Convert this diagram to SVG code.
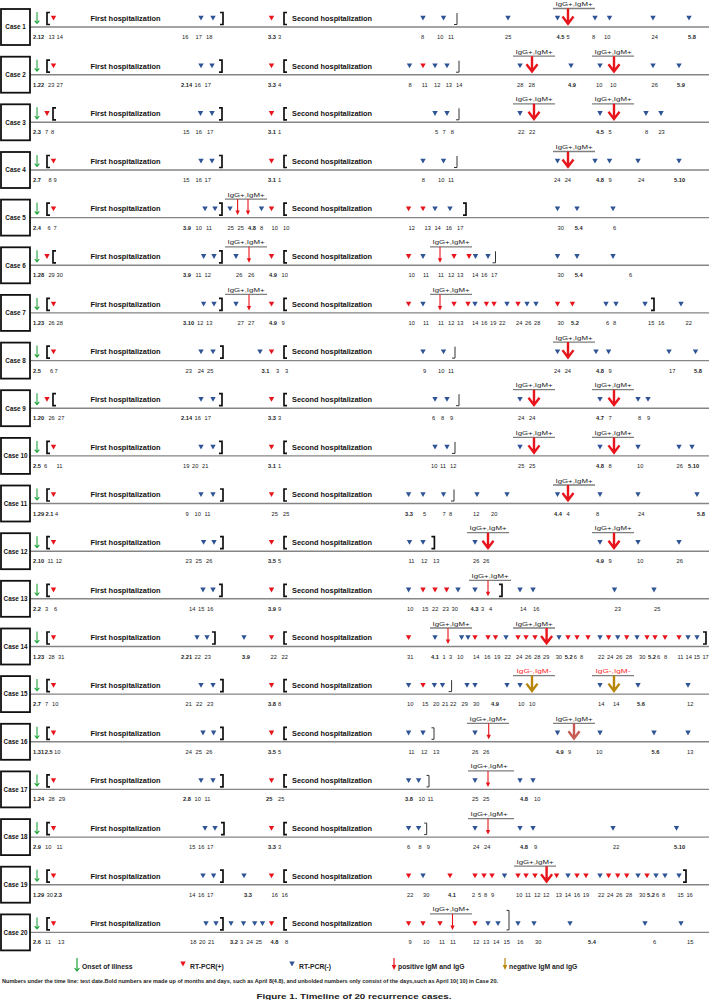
<svg xmlns="http://www.w3.org/2000/svg" xmlns:xlink="http://www.w3.org/1999/xlink" width="709" height="1000" viewBox="0 0 709 1000">
<style>
.bx{fill:#fff;stroke:#111;stroke-width:1.8}
.cl{font:bold 6.3px "Liberation Sans",Arial,sans-serif;text-anchor:middle;fill:#111}
.h{font:bold 7px "Liberation Sans",Arial,sans-serif;fill:#111}
.ig{font:6.2px "Liberation Sans",Arial,sans-serif;fill:#222;text-anchor:middle}
.neg{fill:#ff1a1a}
.ol{stroke:#7f7f7f;stroke-width:1.3;fill:none}
.n text{font:5.7px "Liberation Sans",Arial,sans-serif;fill:#222}
.n .b{font-weight:bold}
.ar{stroke:#e8141b}.ab{stroke:#b7860b}.al{stroke:#c85a54}
.lg{font:bold 6.8px "Liberation Sans",Arial,sans-serif;fill:#222}
.fn{font:bold 4.7px "Liberation Sans",Arial,sans-serif;fill:#222}
.cap{font:bold 7.5px "Liberation Sans",Arial,sans-serif;fill:#222;text-anchor:middle}
</style>
<defs>
<path id="r" d="M-2.7,-11.2H2.7L0,-6.4Z" fill="#e8141b"/>
<path id="u" d="M-2.7,-11.2H2.7L0,-6.4Z" fill="#2f5496"/>
<path id="g" d="M0,-15V-3.5M-2.3,-6.3L0,-3.5L2.3,-6.3" fill="none" stroke="#21a33c" stroke-width="1.1"/>
<path id="o" d="M3,-14.5H0V-2.5H3" fill="none" stroke="#111" stroke-width="1.7"/>
<path id="c" d="M-3,-14.5H0V-2.5H-3" fill="none" stroke="#111" stroke-width="1.7"/>
<path id="e" d="M0,-14V-2.5H-3" fill="none" stroke="#333" stroke-width="1"/>
<path id="t" d="M-2.5,-14H0V-2.5H-2.5" fill="none" stroke="#333" stroke-width="1"/>
<path id="T" d="M-2.5,-22H0V-2.5H-2.5" fill="none" stroke="#333" stroke-width="1"/>
<path id="A" d="M0,-18.5V-3.5M-5.5,-10.5L0,-3.2L5.5,-10.5" fill="none" stroke-width="2.4"/>
<g id="a"><path d="M0,-18.5V-6" stroke="#e8141b" stroke-width="1.1"/><path d="M-2.2,-7H2.2L0,-2.5Z" fill="#e8141b"/></g>
</defs>
<rect width="709" height="1000" fill="#fff"/>
<g id="timelines" stroke="#858585" stroke-width="1.4">
<line x1="30" y1="27" x2="709" y2="27"/><line x1="30" y1="74.7" x2="709" y2="74.7"/><line x1="30" y1="122.3" x2="709" y2="122.3"/><line x1="30" y1="170" x2="709" y2="170"/><line x1="30" y1="217.6" x2="709" y2="217.6"/><line x1="30" y1="265.3" x2="709" y2="265.3"/><line x1="30" y1="312.9" x2="709" y2="312.9"/><line x1="30" y1="360.6" x2="709" y2="360.6"/><line x1="30" y1="408.2" x2="709" y2="408.2"/><line x1="30" y1="455.9" x2="709" y2="455.9"/><line x1="30" y1="503.5" x2="709" y2="503.5"/><line x1="30" y1="551.2" x2="709" y2="551.2"/><line x1="30" y1="598.8" x2="709" y2="598.8"/><line x1="30" y1="646.5" x2="709" y2="646.5"/><line x1="30" y1="694.1" x2="709" y2="694.1"/><line x1="30" y1="741.8" x2="709" y2="741.8"/><line x1="30" y1="789.4" x2="709" y2="789.4"/><line x1="30" y1="837.1" x2="709" y2="837.1"/><line x1="30" y1="884.7" x2="709" y2="884.7"/><line x1="30" y1="932.4" x2="709" y2="932.4"/>
</g>

<g id="case1" transform="translate(0,27)">
<rect class="bx" x="1" y="-18" width="29" height="36"/><text class="cl" x="15.5" y="2.3">Case 1</text>
<text class="h" x="90.5" y="-6.2" textLength="70" lengthAdjust="spacingAndGlyphs">First hospitalization</text>
<text class="h" x="292" y="-6.2" textLength="80" lengthAdjust="spacingAndGlyphs">Second hospitalization</text>
<text class="ig" x="574" y="-21" textLength="37" lengthAdjust="spacingAndGlyphs">IgG+,IgM+</text><path class="ol" d="M553,-18.5H595"/>
<use href="#g" x="37"/><use href="#o" x="47"/><use href="#r" x="53.5"/><use href="#u" x="201"/><use href="#u" x="213"/><use href="#c" x="223"/><use href="#r" x="271.5"/><use href="#o" x="284"/><use href="#u" x="423"/><use href="#u" x="443.5"/><use href="#e" x="457"/><use href="#u" x="508"/><use href="#u" x="557.5"/><use href="#A" class="ar" x="568"/><use href="#u" x="595"/><use href="#u" x="609.5"/><use href="#u" x="653"/><use href="#u" x="689"/>
<g class="n" transform="translate(0,12)"><text class="b" x="33">2.12</text><text x="48.4">13</text><text x="56.6">14</text><text x="182">16</text><text x="195.5">17</text><text x="206">18</text><text class="b" x="268">3.3</text><text x="278">3</text><text x="421">8</text><text x="437">10</text><text x="448">11</text><text x="505">25</text><text class="b" x="556.5">4.5</text><text x="566.5">5</text><text x="592">8</text><text x="604">10</text><text x="651.6">24</text><text class="b" x="688">5.8</text></g>
</g>

<g id="case2" transform="translate(0,74.7)">
<rect class="bx" x="1" y="-18" width="29" height="36"/><text class="cl" x="15.5" y="2.3">Case 2</text>
<text class="h" x="90.5" y="-6.2" textLength="70" lengthAdjust="spacingAndGlyphs">First hospitalization</text>
<text class="h" x="292" y="-6.2" textLength="80" lengthAdjust="spacingAndGlyphs">Second hospitalization</text>
<text class="ig" x="534" y="-21" textLength="37" lengthAdjust="spacingAndGlyphs">IgG+,IgM+</text><path class="ol" d="M513,-18.5H555"/>
<text class="ig" x="613" y="-21" textLength="37" lengthAdjust="spacingAndGlyphs">IgG+,IgM+</text><path class="ol" d="M592,-18.5H634"/>
<use href="#g" x="37"/><use href="#o" x="47"/><use href="#r" x="53.5"/><use href="#u" x="201"/><use href="#u" x="212"/><use href="#c" x="222"/><use href="#r" x="271.5"/><use href="#o" x="284"/><use href="#u" x="409.5"/><use href="#r" x="423"/><use href="#u" x="435"/><use href="#u" x="447"/><use href="#e" x="459"/><use href="#u" x="520"/><use href="#A" class="ar" x="532"/><use href="#u" x="571"/><use href="#u" x="600"/><use href="#A" class="ar" x="614"/><use href="#u" x="653"/><use href="#u" x="679"/>
<g class="n" transform="translate(0,12)"><text class="b" x="33">1.22</text><text x="48">23</text><text x="56.5">27</text><text class="b" x="181">2.14</text><text x="194.6">16</text><text x="204.5">17</text><text class="b" x="268">3.3</text><text x="278">4</text><text x="408.6">8</text><text x="421.7">11</text><text x="434">12</text><text x="445.7">13</text><text x="456">14</text><text x="517">28</text><text x="528.5">28</text><text class="b" x="568">4.9</text><text x="596">10</text><text x="610">10</text><text x="651.6">26</text><text class="b" x="677">5.9</text></g>
</g>

<g id="case3" transform="translate(0,122.3)">
<rect class="bx" x="1" y="-18" width="29" height="36"/><text class="cl" x="15.5" y="2.3">Case 3</text>
<text class="h" x="90.5" y="-6.2" textLength="70" lengthAdjust="spacingAndGlyphs">First hospitalization</text>
<text class="h" x="292" y="-6.2" textLength="80" lengthAdjust="spacingAndGlyphs">Second hospitalization</text>
<text class="ig" x="534" y="-21" textLength="37" lengthAdjust="spacingAndGlyphs">IgG+,IgM+</text><path class="ol" d="M513,-18.5H555"/>
<text class="ig" x="613" y="-21" textLength="37" lengthAdjust="spacingAndGlyphs">IgG+,IgM+</text><path class="ol" d="M592,-18.5H634"/>
<use href="#g" x="37"/><use href="#r" x="47"/><use href="#o" x="53"/><use href="#u" x="200.5"/><use href="#u" x="212"/><use href="#c" x="222"/><use href="#r" x="271.5"/><use href="#o" x="284"/><use href="#u" x="435"/><use href="#u" x="447"/><use href="#e" x="459"/><use href="#u" x="520"/><use href="#A" class="ar" x="534"/><use href="#u" x="600"/><use href="#A" class="ar" x="614"/><use href="#u" x="646"/><use href="#u" x="661"/>
<g class="n" transform="translate(0,12)"><text class="b" x="33">2.3</text><text x="45">7</text><text x="51">8</text><text x="183">15</text><text x="195.5">16</text><text x="207">17</text><text class="b" x="268">3.1</text><text x="278">1</text><text x="435">5</text><text x="442.5">7</text><text x="450.7">8</text><text x="518">22</text><text x="529">22</text><text class="b" x="596">4.5</text><text x="608.6">5</text><text x="645">8</text><text x="658.4">23</text></g>
</g>

<g id="case4" transform="translate(0,170)">
<rect class="bx" x="1" y="-18" width="29" height="36"/><text class="cl" x="15.5" y="2.3">Case 4</text>
<text class="h" x="90.5" y="-6.2" textLength="70" lengthAdjust="spacingAndGlyphs">First hospitalization</text>
<text class="h" x="292" y="-6.2" textLength="80" lengthAdjust="spacingAndGlyphs">Second hospitalization</text>
<text class="ig" x="574" y="-21" textLength="37" lengthAdjust="spacingAndGlyphs">IgG+,IgM+</text><path class="ol" d="M553,-18.5H595"/>
<use href="#g" x="37"/><use href="#o" x="47"/><use href="#r" x="53.5"/><use href="#u" x="201"/><use href="#u" x="212"/><use href="#c" x="222"/><use href="#r" x="271.5"/><use href="#o" x="284"/><use href="#u" x="423"/><use href="#u" x="443.5"/><use href="#e" x="457"/><use href="#u" x="557.5"/><use href="#A" class="ar" x="568"/><use href="#u" x="595"/><use href="#u" x="609.5"/><use href="#u" x="638"/><use href="#u" x="679"/>
<g class="n" transform="translate(0,12)"><text class="b" x="33">2.7</text><text x="48.4">8</text><text x="53.4">9</text><text x="183">15</text><text x="195.5">16</text><text x="204.5">17</text><text class="b" x="268">3.1</text><text x="278">1</text><text x="421.7">8</text><text x="438">10</text><text x="448">11</text><text x="554">24</text><text x="564.7">24</text><text class="b" x="596">4.8</text><text x="608.6">9</text><text x="638">24</text><text class="b" x="674">5.10</text></g>
</g>

<g id="case5" transform="translate(0,217.6)">
<rect class="bx" x="1" y="-18" width="29" height="36"/><text class="cl" x="15.5" y="2.3">Case 5</text>
<text class="h" x="90.5" y="-6.2" textLength="70" lengthAdjust="spacingAndGlyphs">First hospitalization</text>
<text class="h" x="292" y="-6.2" textLength="80" lengthAdjust="spacingAndGlyphs">Second hospitalization</text>
<text class="ig" x="246" y="-21" textLength="37" lengthAdjust="spacingAndGlyphs">IgG+,IgM+</text><path class="ol" d="M225,-18.5H267"/>
<use href="#g" x="37"/><use href="#o" x="47"/><use href="#r" x="53.5"/><use href="#u" x="205"/><use href="#u" x="215"/><use href="#c" x="222"/><use href="#u" x="230"/><use href="#a" x="237.6"/><use href="#a" x="248"/><use href="#u" x="261.5"/><use href="#r" x="271.5"/><use href="#o" x="284"/><use href="#r" x="408.6"/><use href="#r" x="423"/><use href="#u" x="435"/><use href="#u" x="450"/><use href="#c" x="466"/><use href="#u" x="557.5"/><use href="#u" x="577"/><use href="#u" x="613"/>
<g class="n" transform="translate(0,12)"><text class="b" x="33">2.4</text><text x="47.5">6</text><text x="53.4">7</text><text class="b" x="183">3.9</text><text x="195.5">10</text><text x="206">11</text><text x="227.6">25</text><text x="237.6">25</text><text class="b" x="248">4.8</text><text x="260">8</text><text x="271.5">10</text><text x="283">10</text><text x="408.6">12</text><text x="424.5">13</text><text x="434.4">14</text><text x="445.7">16</text><text x="457">17</text><text x="557.5">30</text><text class="b" x="574.7">5.4</text><text x="613">6</text></g>
</g>

<g id="case6" transform="translate(0,265.3)">
<rect class="bx" x="1" y="-18" width="29" height="36"/><text class="cl" x="15.5" y="2.3">Case 6</text>
<text class="h" x="90.5" y="-6.2" textLength="70" lengthAdjust="spacingAndGlyphs">First hospitalization</text>
<text class="h" x="292" y="-6.2" textLength="80" lengthAdjust="spacingAndGlyphs">Second hospitalization</text>
<text class="ig" x="246" y="-21" textLength="37" lengthAdjust="spacingAndGlyphs">IgG+,IgM+</text><path class="ol" d="M225,-18.5H267"/>
<text class="ig" x="451" y="-21" textLength="37" lengthAdjust="spacingAndGlyphs">IgG+,IgM+</text><path class="ol" d="M430,-18.5H472"/>
<use href="#g" x="37"/><use href="#r" x="47"/><use href="#o" x="53"/><use href="#u" x="203.6"/><use href="#u" x="214"/><use href="#c" x="222"/><use href="#u" x="236"/><use href="#a" x="249"/><use href="#r" x="271.5"/><use href="#o" x="284"/><use href="#r" x="408.6"/><use href="#u" x="423"/><use href="#a" x="440"/><use href="#r" x="454"/><use href="#r" x="469"/><use href="#u" x="475.5"/><use href="#u" x="488"/><use href="#e" x="495.5"/><use href="#u" x="557.5"/><use href="#u" x="577"/><use href="#u" x="613"/>
<g class="n" transform="translate(0,12)"><text class="b" x="33">1.28</text><text x="48.4">29</text><text x="56.6">30</text><text class="b" x="183">3.9</text><text x="195.5">11</text><text x="204.5">12</text><text x="236">26</text><text x="248">26</text><text class="b" x="269">4.9</text><text x="281.5">10</text><text x="408.6">10</text><text x="423">11</text><text x="438">11</text><text x="448">12</text><text x="457">13</text><text x="472">14</text><text x="481">16</text><text x="491">17</text><text x="557.5">30</text><text class="b" x="574.7">5.4</text><text x="629">6</text></g>
</g>

<g id="case7" transform="translate(0,312.9)">
<rect class="bx" x="1" y="-18" width="29" height="36"/><text class="cl" x="15.5" y="2.3">Case 7</text>
<text class="h" x="90.5" y="-6.2" textLength="70" lengthAdjust="spacingAndGlyphs">First hospitalization</text>
<text class="h" x="292" y="-6.2" textLength="80" lengthAdjust="spacingAndGlyphs">Second hospitalization</text>
<text class="ig" x="246" y="-21" textLength="37" lengthAdjust="spacingAndGlyphs">IgG+,IgM+</text><path class="ol" d="M225,-18.5H267"/>
<text class="ig" x="451" y="-21" textLength="37" lengthAdjust="spacingAndGlyphs">IgG+,IgM+</text><path class="ol" d="M430,-18.5H472"/>
<use href="#g" x="37"/><use href="#o" x="47"/><use href="#r" x="53.5"/><use href="#u" x="203.6"/><use href="#u" x="214"/><use href="#c" x="222"/><use href="#u" x="236"/><use href="#a" x="249"/><use href="#r" x="271.5"/><use href="#o" x="284"/><use href="#r" x="408.6"/><use href="#u" x="423"/><use href="#a" x="440"/><use href="#r" x="454"/><use href="#r" x="468"/><use href="#u" x="475"/><use href="#r" x="486.4"/><use href="#r" x="494"/><use href="#u" x="507"/><use href="#r" x="518"/><use href="#u" x="527"/><use href="#u" x="536"/><use href="#r" x="557.5"/><use href="#r" x="572.4"/><use href="#u" x="606"/><use href="#u" x="616"/><use href="#u" x="645"/><use href="#c" x="654"/><use href="#u" x="681"/>
<g class="n" transform="translate(0,12)"><text class="b" x="33">1.23</text><text x="48.4">26</text><text x="56.6">28</text><text class="b" x="183">3.10</text><text x="197">12</text><text x="206">13</text><text x="237.6">27</text><text x="248">27</text><text class="b" x="269">4.9</text><text x="281.5">9</text><text x="408.6">10</text><text x="423">11</text><text x="438">11</text><text x="448">12</text><text x="457">13</text><text x="472">14</text><text x="481">16</text><text x="490">19</text><text x="499">22</text><text x="516">24</text><text x="525">26</text><text x="534">28</text><text x="557.5">30</text><text class="b" x="571">5.2</text><text x="606">6</text><text x="613">8</text><text x="648">15</text><text x="658">16</text><text x="685.5">22</text></g>
</g>

<g id="case8" transform="translate(0,360.6)">
<rect class="bx" x="1" y="-18" width="29" height="36"/><text class="cl" x="15.5" y="2.3">Case 8</text>
<text class="h" x="90.5" y="-6.2" textLength="70" lengthAdjust="spacingAndGlyphs">First hospitalization</text>
<text class="h" x="292" y="-6.2" textLength="80" lengthAdjust="spacingAndGlyphs">Second hospitalization</text>
<text class="ig" x="574" y="-21" textLength="37" lengthAdjust="spacingAndGlyphs">IgG+,IgM+</text><path class="ol" d="M553,-18.5H595"/>
<use href="#g" x="37"/><use href="#o" x="47"/><use href="#r" x="53.5"/><use href="#u" x="201"/><use href="#u" x="213"/><use href="#c" x="223"/><use href="#u" x="260"/><use href="#r" x="271.5"/><use href="#o" x="284"/><use href="#u" x="423"/><use href="#u" x="443.5"/><use href="#e" x="455"/><use href="#u" x="557.5"/><use href="#A" class="ar" x="568"/><use href="#u" x="596"/><use href="#u" x="608.6"/><use href="#u" x="669"/><use href="#u" x="695.5"/>
<g class="n" transform="translate(0,12)"><text class="b" x="33">2.5</text><text x="50">6</text><text x="54.5">7</text><text x="185.5">23</text><text x="197.7">24</text><text x="207">25</text><text class="b" x="261.5">3.1</text><text x="276">3</text><text x="285">3</text><text x="423">9</text><text x="438">10</text><text x="448">11</text><text x="554">24</text><text x="564.7">24</text><text class="b" x="596">4.8</text><text x="608.6">9</text><text x="669">17</text><text class="b" x="694">5.8</text></g>
</g>

<g id="case9" transform="translate(0,408.2)">
<rect class="bx" x="1" y="-18" width="29" height="36"/><text class="cl" x="15.5" y="2.3">Case 9</text>
<text class="h" x="90.5" y="-6.2" textLength="70" lengthAdjust="spacingAndGlyphs">First hospitalization</text>
<text class="h" x="292" y="-6.2" textLength="80" lengthAdjust="spacingAndGlyphs">Second hospitalization</text>
<text class="ig" x="534" y="-21" textLength="37" lengthAdjust="spacingAndGlyphs">IgG+,IgM+</text><path class="ol" d="M513,-18.5H555"/>
<text class="ig" x="613" y="-21" textLength="37" lengthAdjust="spacingAndGlyphs">IgG+,IgM+</text><path class="ol" d="M592,-18.5H634"/>
<use href="#g" x="37"/><use href="#r" x="47"/><use href="#o" x="53"/><use href="#u" x="201"/><use href="#u" x="213"/><use href="#c" x="222"/><use href="#r" x="271.5"/><use href="#o" x="284"/><use href="#u" x="435"/><use href="#u" x="447"/><use href="#e" x="459"/><use href="#u" x="520"/><use href="#A" class="ar" x="534"/><use href="#u" x="600"/><use href="#A" class="ar" x="614"/><use href="#u" x="638"/><use href="#u" x="648"/>
<g class="n" transform="translate(0,12)"><text class="b" x="33">1.20</text><text x="48.4">26</text><text x="58">27</text><text class="b" x="181">2.14</text><text x="194.6">16</text><text x="204.5">17</text><text class="b" x="268">3.3</text><text x="278">3</text><text x="432">6</text><text x="441">8</text><text x="450">9</text><text x="518">24</text><text x="529">24</text><text class="b" x="596">4.7</text><text x="608.6">7</text><text x="638">8</text><text x="647">9</text></g>
</g>

<g id="case10" transform="translate(0,455.9)">
<rect class="bx" x="1" y="-18" width="29" height="36"/><text class="cl" x="15.5" y="2.3">Case 10</text>
<text class="h" x="90.5" y="-6.2" textLength="70" lengthAdjust="spacingAndGlyphs">First hospitalization</text>
<text class="h" x="292" y="-6.2" textLength="80" lengthAdjust="spacingAndGlyphs">Second hospitalization</text>
<text class="ig" x="534" y="-21" textLength="37" lengthAdjust="spacingAndGlyphs">IgG+,IgM+</text><path class="ol" d="M513,-18.5H555"/>
<text class="ig" x="613" y="-21" textLength="37" lengthAdjust="spacingAndGlyphs">IgG+,IgM+</text><path class="ol" d="M592,-18.5H634"/>
<use href="#g" x="37"/><use href="#o" x="47"/><use href="#r" x="53.5"/><use href="#u" x="201"/><use href="#u" x="213"/><use href="#c" x="222"/><use href="#r" x="271.5"/><use href="#o" x="284"/><use href="#u" x="435"/><use href="#u" x="447"/><use href="#e" x="455"/><use href="#u" x="520"/><use href="#A" class="ar" x="534"/><use href="#u" x="600"/><use href="#A" class="ar" x="614"/><use href="#u" x="638"/><use href="#u" x="679"/><use href="#u" x="692"/>
<g class="n" transform="translate(0,12)"><text class="b" x="33">2.5</text><text x="44">6</text><text x="56.6">11</text><text x="183">19</text><text x="192">20</text><text x="202">21</text><text class="b" x="268">3.1</text><text x="278">1</text><text x="431">10</text><text x="440">11</text><text x="450">12</text><text x="518">25</text><text x="529">25</text><text class="b" x="596">4.8</text><text x="608.6">8</text><text x="637">10</text><text x="676.5">26</text><text class="b" x="688">5.10</text></g>
</g>

<g id="case11" transform="translate(0,503.5)">
<rect class="bx" x="1" y="-18" width="29" height="36"/><text class="cl" x="15.5" y="2.3">Case 11</text>
<text class="h" x="90.5" y="-6.2" textLength="70" lengthAdjust="spacingAndGlyphs">First hospitalization</text>
<text class="h" x="292" y="-6.2" textLength="80" lengthAdjust="spacingAndGlyphs">Second hospitalization</text>
<text class="ig" x="574" y="-21" textLength="37" lengthAdjust="spacingAndGlyphs">IgG+,IgM+</text><path class="ol" d="M553,-18.5H595"/>
<use href="#g" x="37"/><use href="#o" x="47"/><use href="#r" x="53.5"/><use href="#u" x="201"/><use href="#u" x="213"/><use href="#c" x="223"/><use href="#r" x="271.5"/><use href="#o" x="284"/><use href="#u" x="408.6"/><use href="#u" x="423"/><use href="#u" x="443.5"/><use href="#e" x="454"/><use href="#u" x="477"/><use href="#u" x="507"/><use href="#u" x="557.5"/><use href="#A" class="ar" x="568"/><use href="#u" x="600"/><use href="#u" x="638"/><use href="#u" x="697"/>
<g class="n" transform="translate(0,12)"><text class="b" x="33">1.29</text><text class="b" x="45.5">2.1</text><text x="55">4</text><text x="185.5">9</text><text x="194.6">10</text><text x="204.5">11</text><text x="271.5">25</text><text x="283">25</text><text class="b" x="405">3.3</text><text x="423">5</text><text x="442.5">7</text><text x="449">8</text><text x="473">12</text><text x="491">20</text><text class="b" x="554">4.4</text><text x="566.5">4</text><text x="596">8</text><text x="638">24</text><text class="b" x="697">5.8</text></g>
</g>

<g id="case12" transform="translate(0,551.2)">
<rect class="bx" x="1" y="-18" width="29" height="36"/><text class="cl" x="15.5" y="2.3">Case 12</text>
<text class="h" x="90.5" y="-6.2" textLength="70" lengthAdjust="spacingAndGlyphs">First hospitalization</text>
<text class="h" x="292" y="-6.2" textLength="80" lengthAdjust="spacingAndGlyphs">Second hospitalization</text>
<text class="ig" x="488" y="-21" textLength="37" lengthAdjust="spacingAndGlyphs">IgG+,IgM+</text><path class="ol" d="M467,-18.5H509"/>
<text class="ig" x="613" y="-21" textLength="37" lengthAdjust="spacingAndGlyphs">IgG+,IgM+</text><path class="ol" d="M592,-18.5H634"/>
<use href="#g" x="37"/><use href="#o" x="47"/><use href="#r" x="53.5"/><use href="#u" x="203.6"/><use href="#u" x="214"/><use href="#c" x="223"/><use href="#r" x="271.5"/><use href="#o" x="284"/><use href="#u" x="409.5"/><use href="#u" x="423"/><use href="#c" x="434.4"/><use href="#u" x="475"/><use href="#A" class="ar" x="488"/><use href="#u" x="600"/><use href="#A" class="ar" x="614"/><use href="#u" x="638"/><use href="#u" x="679"/>
<g class="n" transform="translate(0,12)"><text class="b" x="33">2.10</text><text x="47.5">11</text><text x="55.7">12</text><text x="185.5">23</text><text x="195.5">25</text><text x="206">26</text><text class="b" x="268">3.5</text><text x="278">5</text><text x="408.6">11</text><text x="421">12</text><text x="433">13</text><text x="473">26</text><text x="483">26</text><text class="b" x="596">4.9</text><text x="608.6">9</text><text x="637">10</text><text x="676.5">26</text></g>
</g>

<g id="case13" transform="translate(0,598.8)">
<rect class="bx" x="1" y="-18" width="29" height="36"/><text class="cl" x="15.5" y="2.3">Case 13</text>
<text class="h" x="90.5" y="-6.2" textLength="70" lengthAdjust="spacingAndGlyphs">First hospitalization</text>
<text class="h" x="292" y="-6.2" textLength="80" lengthAdjust="spacingAndGlyphs">Second hospitalization</text>
<text class="ig" x="490" y="-21" textLength="37" lengthAdjust="spacingAndGlyphs">IgG+,IgM+</text><path class="ol" d="M469,-18.5H511"/>
<use href="#g" x="37"/><use href="#o" x="47"/><use href="#r" x="53.5"/><use href="#u" x="203"/><use href="#u" x="213"/><use href="#c" x="222"/><use href="#r" x="271.5"/><use href="#o" x="284"/><use href="#u" x="408.6"/><use href="#r" x="423"/><use href="#r" x="435"/><use href="#r" x="446.6"/><use href="#u" x="458"/><use href="#u" x="475"/><use href="#a" x="488"/><use href="#c" x="502"/><use href="#u" x="520"/><use href="#u" x="533"/><use href="#u" x="614.5"/><use href="#u" x="654"/>
<g class="n" transform="translate(0,12)"><text class="b" x="33">2.2</text><text x="45">3</text><text x="54">6</text><text x="189">14</text><text x="198">15</text><text x="207">16</text><text class="b" x="268">3.9</text><text x="278">9</text><text x="407">10</text><text x="422">15</text><text x="432">22</text><text x="442.5">23</text><text x="451.6">30</text><text class="b" x="470.6">4.3</text><text x="481">3</text><text x="489">4</text><text x="520">14</text><text x="533">16</text><text x="614.5">23</text><text x="654">25</text></g>
</g>

<g id="case14" transform="translate(0,646.5)">
<rect class="bx" x="1" y="-18" width="29" height="36"/><text class="cl" x="15.5" y="2.3">Case 14</text>
<text class="h" x="90.5" y="-6.2" textLength="70" lengthAdjust="spacingAndGlyphs">First hospitalization</text>
<text class="h" x="292" y="-6.2" textLength="80" lengthAdjust="spacingAndGlyphs">Second hospitalization</text>
<text class="ig" x="451" y="-21" textLength="37" lengthAdjust="spacingAndGlyphs">IgG+,IgM+</text><path class="ol" d="M430,-18.5H472"/>
<text class="ig" x="534" y="-21" textLength="37" lengthAdjust="spacingAndGlyphs">IgG+,IgM+</text><path class="ol" d="M513,-18.5H555"/>
<use href="#g" x="37"/><use href="#o" x="47"/><use href="#r" x="53.5"/><use href="#u" x="197"/><use href="#u" x="207"/><use href="#c" x="215"/><use href="#u" x="244"/><use href="#r" x="271.5"/><use href="#o" x="284"/><use href="#r" x="408.6"/><use href="#u" x="435"/><use href="#a" x="448"/><use href="#u" x="461.6"/><use href="#u" x="468"/><use href="#r" x="475"/><use href="#r" x="488"/><use href="#r" x="495.5"/><use href="#u" x="506"/><use href="#r" x="518"/><use href="#r" x="526"/><use href="#r" x="535"/><use href="#A" class="ar" x="546.6"/><use href="#u" x="559"/><use href="#r" x="568"/><use href="#r" x="577"/><use href="#r" x="588"/><use href="#u" x="600"/><use href="#r" x="608.6"/><use href="#u" x="617.7"/><use href="#r" x="626.7"/><use href="#u" x="637"/><use href="#r" x="647"/><use href="#r" x="655"/><use href="#r" x="665"/><use href="#r" x="679"/><use href="#u" x="688"/><use href="#u" x="697"/><use href="#c" x="706"/>
<g class="n" transform="translate(0,12)"><text class="b" x="33">1.23</text><text x="48.4">28</text><text x="58">31</text><text class="b" x="181">2.21</text><text x="194.6">22</text><text x="204.5">23</text><text class="b" x="242">3.9</text><text x="270.6">22</text><text x="281.5">22</text><text x="407">31</text><text class="b" x="431">4.1</text><text x="442.5">1</text><text x="449">3</text><text x="457">10</text><text x="473">14</text><text x="484">16</text><text x="494">19</text><text x="504.5">22</text><text x="516">24</text><text x="525">26</text><text x="534">28</text><text x="543">29</text><text x="555.7">30</text><text class="b" x="564.7">5.2</text><text x="573.8">6</text><text x="580">8</text><text x="598">22</text><text x="607">24</text><text x="616">26</text><text x="625.8">28</text><text x="639">30</text><text class="b" x="648">5.2</text><text x="657">6</text><text x="664">8</text><text x="677.4">11</text><text x="685.5">14</text><text x="693.7">15</text><text x="702.4">17</text></g>
</g>

<g id="case15" transform="translate(0,694.1)">
<rect class="bx" x="1" y="-18" width="29" height="36"/><text class="cl" x="15.5" y="2.3">Case 15</text>
<text class="h" x="90.5" y="-6.2" textLength="70" lengthAdjust="spacingAndGlyphs">First hospitalization</text>
<text class="h" x="292" y="-6.2" textLength="80" lengthAdjust="spacingAndGlyphs">Second hospitalization</text>
<text class="ig neg" x="534" y="-21" textLength="35" lengthAdjust="spacingAndGlyphs">IgG-,IgM-</text><path class="ol" d="M513,-18.5H555"/>
<text class="ig neg" x="613" y="-21" textLength="35" lengthAdjust="spacingAndGlyphs">IgG-,IgM-</text><path class="ol" d="M592,-18.5H634"/>
<use href="#g" x="37"/><use href="#o" x="47"/><use href="#r" x="53.5"/><use href="#u" x="201"/><use href="#u" x="213"/><use href="#c" x="223"/><use href="#r" x="271.5"/><use href="#o" x="284"/><use href="#u" x="408.6"/><use href="#r" x="423"/><use href="#u" x="434.4"/><use href="#u" x="442.5"/><use href="#e" x="451.6"/><use href="#u" x="467"/><use href="#u" x="475"/><use href="#u" x="507"/><use href="#u" x="520"/><use href="#A" class="ab" x="532"/><use href="#u" x="600"/><use href="#A" class="ab" x="614"/><use href="#u" x="638"/><use href="#u" x="688"/>
<g class="n" transform="translate(0,12)"><text class="b" x="33">2.7</text><text x="45">7</text><text x="52">10</text><text x="185.5">21</text><text x="196">22</text><text x="207">23</text><text class="b" x="268">3.8</text><text x="278">8</text><text x="407">10</text><text x="422">15</text><text x="433">20</text><text x="442">21</text><text x="450">22</text><text x="461.6">29</text><text x="473">30</text><text class="b" x="491">4.9</text><text x="518">10</text><text x="529">10</text><text x="598">14</text><text x="613">14</text><text class="b" x="637">5.6</text><text x="687">12</text></g>
</g>

<g id="case16" transform="translate(0,741.8)">
<rect class="bx" x="1" y="-18" width="29" height="36"/><text class="cl" x="15.5" y="2.3">Case 16</text>
<text class="h" x="90.5" y="-6.2" textLength="70" lengthAdjust="spacingAndGlyphs">First hospitalization</text>
<text class="h" x="292" y="-6.2" textLength="80" lengthAdjust="spacingAndGlyphs">Second hospitalization</text>
<text class="ig" x="488" y="-21" textLength="37" lengthAdjust="spacingAndGlyphs">IgG+,IgM+</text><path class="ol" d="M467,-18.5H509"/>
<text class="ig" x="574" y="-21" textLength="37" lengthAdjust="spacingAndGlyphs">IgG+,IgM+</text><path class="ol" d="M553,-18.5H595"/>
<use href="#g" x="37"/><use href="#o" x="47"/><use href="#r" x="53.5"/><use href="#u" x="203"/><use href="#u" x="213.6"/><use href="#c" x="223"/><use href="#r" x="271.5"/><use href="#o" x="284"/><use href="#u" x="408.6"/><use href="#u" x="423"/><use href="#t" x="434"/><use href="#u" x="475"/><use href="#a" x="488.7"/><use href="#u" x="557.5"/><use href="#A" class="al" x="574"/><use href="#u" x="600"/><use href="#u" x="654"/><use href="#u" x="688"/>
<g class="n" transform="translate(0,12)"><text class="b" x="33">1.31</text><text class="b" x="44.8">2.5</text><text x="54">10</text><text x="185.5">24</text><text x="195.5">25</text><text x="206">26</text><text class="b" x="268">3.5</text><text x="278">5</text><text x="408.6">11</text><text x="421">12</text><text x="433">13</text><text x="472">26</text><text x="483">26</text><text class="b" x="555.7">4.9</text><text x="568">9</text><text x="596">10</text><text class="b" x="651.6">5.6</text><text x="687">13</text></g>
</g>

<g id="case17" transform="translate(0,789.4)">
<rect class="bx" x="1" y="-18" width="29" height="36"/><text class="cl" x="15.5" y="2.3">Case 17</text>
<text class="h" x="90.5" y="-6.2" textLength="70" lengthAdjust="spacingAndGlyphs">First hospitalization</text>
<text class="h" x="292" y="-6.2" textLength="80" lengthAdjust="spacingAndGlyphs">Second hospitalization</text>
<text class="ig" x="489" y="-21" textLength="37" lengthAdjust="spacingAndGlyphs">IgG+,IgM+</text><path class="ol" d="M468,-18.5H514"/>
<use href="#g" x="37"/><use href="#o" x="47"/><use href="#r" x="53.5"/><use href="#u" x="201"/><use href="#u" x="213"/><use href="#c" x="223"/><use href="#r" x="271.5"/><use href="#o" x="284"/><use href="#u" x="408.6"/><use href="#u" x="418.6"/><use href="#t" x="429"/><use href="#u" x="475"/><use href="#a" x="488"/><use href="#u" x="520"/><use href="#u" x="533"/>
<g class="n" transform="translate(0,12)"><text class="b" x="33">1.24</text><text x="48.4">28</text><text x="58.8">29</text><text class="b" x="183">2.8</text><text x="194.6">10</text><text x="204.5">11</text><text class="b" x="266">25</text><text x="278">25</text><text class="b" x="405">3.8</text><text x="418.6">10</text><text x="427.6">11</text><text x="472">25</text><text x="483">25</text><text class="b" x="520">4.8</text><text x="534">10</text></g>
</g>

<g id="case18" transform="translate(0,837.1)">
<rect class="bx" x="1" y="-18" width="29" height="36"/><text class="cl" x="15.5" y="2.3">Case 18</text>
<text class="h" x="90.5" y="-6.2" textLength="70" lengthAdjust="spacingAndGlyphs">First hospitalization</text>
<text class="h" x="292" y="-6.2" textLength="80" lengthAdjust="spacingAndGlyphs">Second hospitalization</text>
<text class="ig" x="489" y="-21" textLength="37" lengthAdjust="spacingAndGlyphs">IgG+,IgM+</text><path class="ol" d="M468,-18.5H514"/>
<use href="#g" x="37"/><use href="#o" x="47"/><use href="#r" x="53.5"/><use href="#u" x="205"/><use href="#u" x="215"/><use href="#c" x="224"/><use href="#r" x="271.5"/><use href="#o" x="284"/><use href="#u" x="408.6"/><use href="#u" x="418.6"/><use href="#t" x="426.7"/><use href="#u" x="475"/><use href="#a" x="488"/><use href="#u" x="520"/><use href="#u" x="533"/><use href="#u" x="613"/><use href="#u" x="676.5"/>
<g class="n" transform="translate(0,12)"><text class="b" x="33">2.9</text><text x="45">10</text><text x="56.6">11</text><text x="189">15</text><text x="198">16</text><text x="207">17</text><text class="b" x="268">3.3</text><text x="278">3</text><text x="407">6</text><text x="418.6">8</text><text x="426.7">9</text><text x="473">24</text><text x="484">24</text><text class="b" x="520">4.8</text><text x="534">9</text><text x="613">22</text><text class="b" x="674">5.10</text></g>
</g>

<g id="case19" transform="translate(0,884.7)">
<rect class="bx" x="1" y="-18" width="29" height="36"/><text class="cl" x="15.5" y="2.3">Case 19</text>
<text class="h" x="90.5" y="-6.2" textLength="70" lengthAdjust="spacingAndGlyphs">First hospitalization</text>
<text class="h" x="292" y="-6.2" textLength="80" lengthAdjust="spacingAndGlyphs">Second hospitalization</text>
<text class="ig" x="535" y="-21" textLength="37" lengthAdjust="spacingAndGlyphs">IgG+,IgM+</text><path class="ol" d="M514,-18.5H556"/>
<use href="#g" x="37"/><use href="#o" x="47"/><use href="#r" x="53.5"/><use href="#u" x="203"/><use href="#u" x="213.6"/><use href="#c" x="223"/><use href="#u" x="244"/><use href="#r" x="271.5"/><use href="#o" x="284"/><use href="#r" x="408.6"/><use href="#u" x="423"/><use href="#r" x="450"/><use href="#r" x="475"/><use href="#r" x="484"/><use href="#r" x="492"/><use href="#u" x="504.5"/><use href="#r" x="518"/><use href="#r" x="526"/><use href="#r" x="535"/><use href="#A" class="ar" x="546.6"/><use href="#r" x="556.6"/><use href="#u" x="568"/><use href="#r" x="577"/><use href="#r" x="586"/><use href="#u" x="600"/><use href="#r" x="608.6"/><use href="#r" x="617.7"/><use href="#r" x="626.7"/><use href="#u" x="638"/><use href="#r" x="647"/><use href="#u" x="656"/><use href="#u" x="665"/><use href="#u" x="679"/><use href="#c" x="686"/>
<g class="n" transform="translate(0,12)"><text class="b" x="33">1.29</text><text x="46.6">30</text><text class="b" x="54">2.3</text><text x="189">14</text><text x="198">16</text><text x="207">17</text><text class="b" x="244">3.3</text><text x="271.5">16</text><text x="281.5">16</text><text x="407">22</text><text x="423">30</text><text class="b" x="448">4.1</text><text x="472">2</text><text x="478">5</text><text x="484">8</text><text x="491">9</text><text x="516">10</text><text x="525">11</text><text x="534">12</text><text x="543">12</text><text x="555.7">13</text><text x="564.7">14</text><text x="573.8">16</text><text x="582.8">19</text><text x="598">22</text><text x="607">24</text><text x="616">26</text><text x="625.8">28</text><text x="639">30</text><text class="b" x="647">5.2</text><text x="656">6</text><text x="662">8</text><text x="677.4">15</text><text x="686.4">16</text></g>
</g>

<g id="case20" transform="translate(0,932.4)">
<rect class="bx" x="1" y="-18" width="29" height="36"/><text class="cl" x="15.5" y="2.3">Case 20</text>
<text class="h" x="90.5" y="-6.2" textLength="70" lengthAdjust="spacingAndGlyphs">First hospitalization</text>
<text class="h" x="292" y="-6.2" textLength="80" lengthAdjust="spacingAndGlyphs">Second hospitalization</text>
<text class="ig" x="451" y="-21" textLength="37" lengthAdjust="spacingAndGlyphs">IgG+,IgM+</text><path class="ol" d="M430,-18.5H472"/>
<use href="#g" x="37"/><use href="#o" x="47"/><use href="#r" x="53.5"/><use href="#u" x="206"/><use href="#u" x="216"/><use href="#c" x="223"/><use href="#u" x="231"/><use href="#u" x="243.5"/><use href="#u" x="254.7"/><use href="#u" x="262.5"/><use href="#r" x="271.5"/><use href="#o" x="284"/><use href="#r" x="408.6"/><use href="#r" x="423"/><use href="#r" x="440"/><use href="#a" x="452.5"/><use href="#r" x="475"/><use href="#u" x="488"/><use href="#u" x="498"/><use href="#T" x="509"/><use href="#u" x="518"/><use href="#u" x="534"/><use href="#u" x="570"/><use href="#u" x="645"/><use href="#u" x="681"/>
<g class="n" transform="translate(0,12)"><text class="b" x="33">2.6</text><text x="45">11</text><text x="58">13</text><text x="190">18</text><text x="199">20</text><text x="208">21</text><text class="b" x="230">3.2</text><text x="240">3</text><text x="246.6">24</text><text x="255.7">25</text><text class="b" x="270.6">4.8</text><text x="285">8</text><text x="408.6">9</text><text x="423">10</text><text x="439">11</text><text x="450">11</text><text x="473">12</text><text x="483">13</text><text x="493">14</text><text x="503.6">15</text><text x="517">16</text><text x="535">30</text><text class="b" x="588">5.4</text><text x="653">6</text><text x="687">15</text></g>
</g>

<g id="legend">
<path d="M77,958V971M74.6,968L77,971L79.4,968" fill="none" stroke="#21a33c" stroke-width="1.2"/>
<text class="lg" x="82" y="969">Onset of illness</text>
<path d="M180.3,961.5H185.7L183,966.5Z" fill="#e8141b"/>
<text class="lg" x="190" y="969">RT-PCR(+)</text>
<path d="M289.3,961.5H294.7L292,966.5Z" fill="#2f5496"/>
<text class="lg" x="299" y="969">RT-PCR(-)</text>
<path d="M394,958V966" stroke="#e8141b" stroke-width="1.2"/><path d="M391.7,965H396.3L394,970Z" fill="#e8141b"/>
<text class="lg" x="398" y="969">positive IgM and IgG</text>
<path d="M505,958V966" stroke="#b7860b" stroke-width="1.2"/><path d="M502.7,965H507.3L505,970Z" fill="#b7860b"/>
<text class="lg" x="509" y="969">negative IgM and IgG</text>
</g>
<text class="fn" x="2" y="983" textLength="496" lengthAdjust="spacingAndGlyphs">Numbers under the time line: test date.Bold numbers are made up of months and days, such as April 8(4.8), and unbolded numbers only consist of the days,such as April 10( 10) in Case 20.</text>
<text class="cap" x="354" y="998.5" textLength="195" lengthAdjust="spacingAndGlyphs">Figure 1. Timeline of 20 recurrence cases.</text>
</svg>
